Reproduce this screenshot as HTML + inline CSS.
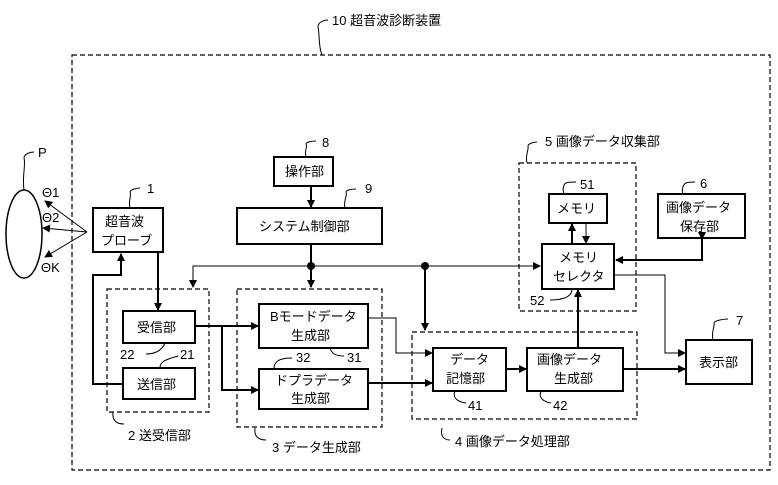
<!DOCTYPE html>
<html><head><meta charset="utf-8"><style>
html,body{margin:0;padding:0;background:#fff}
svg{display:block}
text{font-family:"Liberation Sans","Noto Sans CJK JP",sans-serif;font-size:13px;fill:#000}
.b{fill:#fff;stroke:#000;stroke-width:2}
.d{fill:none;stroke:#000;stroke-width:1.2;stroke-dasharray:5,3}
.l{fill:none;stroke:#000;stroke-width:2}
.t{fill:none;stroke:#000;stroke-width:1}
</style></head><body>
<svg width="778" height="485" viewBox="0 0 778 485">
<defs><marker id="a" markerWidth="8" markerHeight="8" refX="7" refY="4" orient="auto" markerUnits="userSpaceOnUse"><path d="M0,0 L8,4 L0,8z" fill="#000"/></marker></defs>
<rect class="d" x="72" y="55" width="698" height="415"/>
<path class="t" d="M322,55 C318,45 320,35 318,27 C318,22 324,20 328,20"/>
<text x="332" y="25">10  超音波診断装置</text>
<ellipse cx="24" cy="234" rx="18" ry="44" class="l" style="stroke-width:1.5"/>
<path class="t" d="M24,190 C22,175 26,165 24,158 C24,154 30,152 34,152"/>
<text x="38" y="157">P</text>
<line class="t" x1="87" y1="232" x2="45" y2="201" marker-end="url(#a)"/>
<line class="t" x1="87" y1="232" x2="43" y2="228" marker-end="url(#a)"/>
<line class="t" x1="87" y1="232" x2="45" y2="257" marker-end="url(#a)"/>
<text x="42" y="197">Θ1</text><text x="42" y="222">Θ2</text><text x="41" y="272">ΘK</text>
<rect class="b" x="93" y="208" width="70" height="44"/>
<text x="105" y="226">超音波</text><text x="101" y="245">プローブ</text>
<path class="t" d="M130,208 C128,200 132,195 130,192 C130,190 136,188 140,188"/><text x="147" y="193">1</text>
<rect class="b" x="274" y="157" width="59" height="29"/><text x="285" y="176">操作部</text>
<path class="t" d="M306,157 C304,150 308,147 306,144 C306,142 312,141 316,141"/><text x="322" y="147">8</text>
<line class="l" x1="311" y1="186" x2="311" y2="207" marker-end="url(#a)"/>
<rect class="b" x="237" y="208" width="145" height="36"/><text x="259" y="231">システム制御部</text>
<path class="t" d="M345,208 C343,200 348,195 346,192 C346,190 352,189 356,189"/><text x="365" y="193">9</text>
<line class="l" x1="311" y1="244" x2="311" y2="287" marker-end="url(#a)"/>
<circle cx="311" cy="266" r="4"/>
<circle cx="425" cy="266" r="4"/>
<path class="t" d="M540,266 L193,266 L193,287" marker-end="url(#a)"/>
<line class="t" x1="425" y1="266" x2="540" y2="266" marker-end="url(#a)"/>
<line class="l" x1="425" y1="266" x2="425" y2="330" marker-end="url(#a)"/>
<rect class="d" x="107" y="289" width="102" height="123"/>
<rect class="b" x="123" y="311" width="72" height="32"/><text x="137" y="332">受信部</text>
<rect class="b" x="123" y="368" width="72" height="31"/><text x="137" y="389">送信部</text>
<line class="l" x1="158" y1="252" x2="158" y2="310" marker-end="url(#a)"/>
<path class="l" d="M123,384 L93,384 L93,275 L121,275 L121,254" marker-end="url(#a)"/>
<text x="120" y="359">22</text><path class="t" d="M146,354 C156,354 162,350 165,343"/>
<text x="180" y="359">21</text><path class="t" d="M160,368 C160,362 164,360 178,356"/>
<path class="t" d="M113,412 C112,420 116,424 124,424"/><text x="128" y="440">2  送受信部</text>
<rect class="d" x="237" y="289" width="145" height="138"/>
<rect class="b" x="259" y="304" width="109" height="44"/><text x="270" y="321">Bモードデータ</text><text x="291" y="340">生成部</text>
<rect class="b" x="259" y="369" width="109" height="40"/><text x="275" y="385">ドプラデータ</text><text x="291" y="403">生成部</text>
<line class="l" x1="195" y1="326" x2="258" y2="326" marker-end="url(#a)"/>
<path class="l" d="M222,326 L222,390 L258,390" marker-end="url(#a)"/>
<text x="296" y="362">32</text><path class="t" d="M274,369 C274,362 278,358 292,358"/>
<text x="347" y="362">31</text><path class="t" d="M330,348 C332,354 336,356 344,356"/>
<path class="t" d="M255,428 C254,436 258,440 266,440"/><text x="272" y="452">3  データ生成部</text>
<path class="t" d="M368,318 L396,318 L396,353 L432,353" marker-end="url(#a)"/>
<line class="l" x1="368" y1="383" x2="432" y2="383" marker-end="url(#a)"/>
<rect class="d" x="412" y="332" width="225" height="87"/>
<rect class="b" x="433" y="348" width="73" height="43"/><text x="450" y="364">データ</text><text x="446" y="383">記憶部</text>
<rect class="b" x="527" y="348" width="96" height="43"/><text x="537" y="364">画像データ</text><text x="554" y="383">生成部</text>
<line class="l" x1="506" y1="369" x2="526" y2="369" marker-end="url(#a)"/>
<line class="l" x1="623" y1="369" x2="685" y2="369" marker-end="url(#a)"/>
<line class="l" x1="578" y1="348" x2="578" y2="290" marker-end="url(#a)"/>
<text x="468" y="410">41</text><path class="t" d="M455,391 C452,398 458,402 466,403"/>
<text x="553" y="410">42</text><path class="t" d="M541,391 C538,398 544,402 551,403"/>
<path class="t" d="M442,428 C440,436 444,440 450,440"/><text x="455" y="446">4  画像データ処理部</text>
<rect class="b" x="686" y="340" width="66" height="44"/><text x="699" y="367">表示部</text>
<path class="t" d="M713,340 C711,332 715,326 714,323 C714,321 722,319 728,319"/><text x="736" y="325">7</text>
<rect class="d" x="519" y="163" width="117" height="148"/>
<path class="t" d="M527,163 C525,155 529,150 528,146 C528,144 533,142 537,142"/><text x="545" y="146">5  画像データ収集部</text>
<rect class="b" x="549" y="194" width="58" height="29"/><text x="557" y="213">メモリ</text>
<text x="580" y="189">51</text><path class="t" d="M564,194 C562,188 564,184 566,183 C568,182 572,182 576,182"/>
<rect class="b" x="542" y="244" width="72" height="45"/><text x="559" y="262">メモリ</text><text x="553" y="281">セレクタ</text>
<line class="l" x1="572" y1="244" x2="572" y2="224" marker-end="url(#a)"/>
<line class="t" x1="586" y1="223" x2="586" y2="243" marker-end="url(#a)"/>
<text x="530" y="305">52</text><path class="t" d="M550,300 C560,300 572,298 572,289"/>
<rect class="b" x="658" y="194" width="87" height="44"/><text x="666" y="212">画像データ</text><text x="680" y="231">保存部</text>
<path class="t" d="M683,194 C681,188 684,184 686,183 C688,182 692,182 695,182"/><text x="700" y="188">6</text>
<path class="l" d="M702,239 L702,260 L616,260" marker-end="url(#a)" marker-start="url(#a)"/>
<path class="t" d="M614,275 L665,275 L665,353 L685,353" marker-end="url(#a)"/>
</svg>
</body></html>
